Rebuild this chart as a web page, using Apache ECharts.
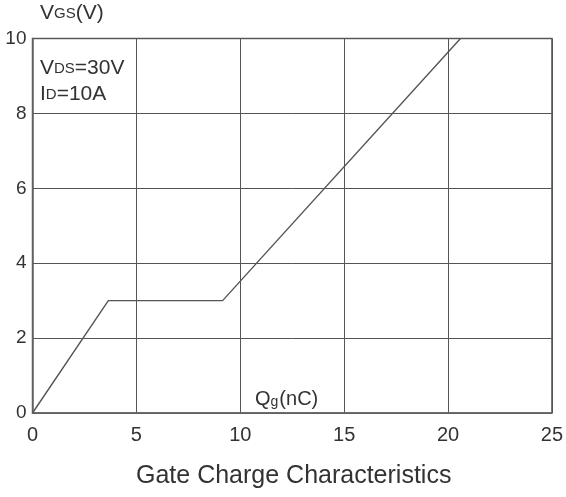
<!DOCTYPE html>
<html><head><meta charset="utf-8">
<script src="https://cdn.jsdelivr.net/npm/echarts@6/dist/echarts.min.js"></script>
<style>html,body{margin:0;padding:0;background:#fff}#c{width:566px;height:497px}</style>
</head><body><div id="c"></div>
<script>
const qg = [0, 3.65, 9.15, 20.6];
const vgs = [0, 3.0, 3.0, 10.0];
const xTicks = [0, 5, 10, 15, 20, 25];
const yTicks = [0, 2, 4, 6, 8, 10];
const title = 'Gate Charge Characteristics';

const F = 'Liberation Sans, Arial, sans-serif';
const chart = echarts.init(document.getElementById('c'), null, {renderer: 'canvas'});
const big = {fontFamily: F, fontSize: 21, fill: '#333'};
const sub = {fontFamily: F, fontSize: 15, fill: '#333'};
chart.setOption({
  animation: false,
  backgroundColor: '#fff',
  title: {text: title, left: 136, top: 464, padding: 0, textStyle: {fontFamily: F, fontSize: 25, fontWeight: 'normal', color: '#333'}},
  grid: {left: 32.5, right: 9.5, top: 38.5, bottom: 84, show: true, borderColor: '#666', borderWidth: 1.5},
  xAxis: {type: 'value', min: 0, max: 25, interval: 5,
    axisLine: {show: true, lineStyle: {color: '#666', width: 1.5}}, axisTick: {show: false},
    splitLine: {show: true, lineStyle: {color: '#555', width: 1}},
    axisLabel: {fontFamily: F, fontSize: 20, color: '#333', margin: 12,
      formatter: v => xTicks.includes(v) ? String(v) : ''}},
  yAxis: {type: 'value', min: 0, max: 10, interval: 2,
    axisLine: {show: true, lineStyle: {color: '#666', width: 1.5}}, axisTick: {show: false},
    splitLine: {show: true, lineStyle: {color: '#555', width: 1}},
    axisLabel: {fontFamily: F, fontSize: 19, color: '#333', margin: 6,
      formatter: v => yTicks.includes(v) ? String(v) : ''}},
  graphic: [
    {type: 'text', left: 40, top: 3, style: {text: '{a|V}{b|GS}{a|(V)}', rich: {a: big, b: sub}}},
    {type: 'text', left: 40, top: 58, style: {text: '{a|V}{b|DS}{a|=30V}', rich: {a: big, b: sub}}},
    {type: 'text', left: 40, top: 84, style: {text: '{a|I}{b|D}{a|=10A}', rich: {a: big, b: sub}}},
    {type: 'text', left: 255, top: 389, style: {text: '{a|Q}{b|g}{a|(nC)}', rich: {a: {fontFamily: F, fontSize: 20, fill: '#333'}, b: {fontFamily: F, fontSize: 14, fill: '#333', padding: [7, 1, 0, 0]}}}}
  ],
  series: [{type: 'line', data: qg.map((x, i) => [x, vgs[i]]), showSymbol: false,
    lineStyle: {color: '#555', width: 1.4}}]
});
</script></body></html>
